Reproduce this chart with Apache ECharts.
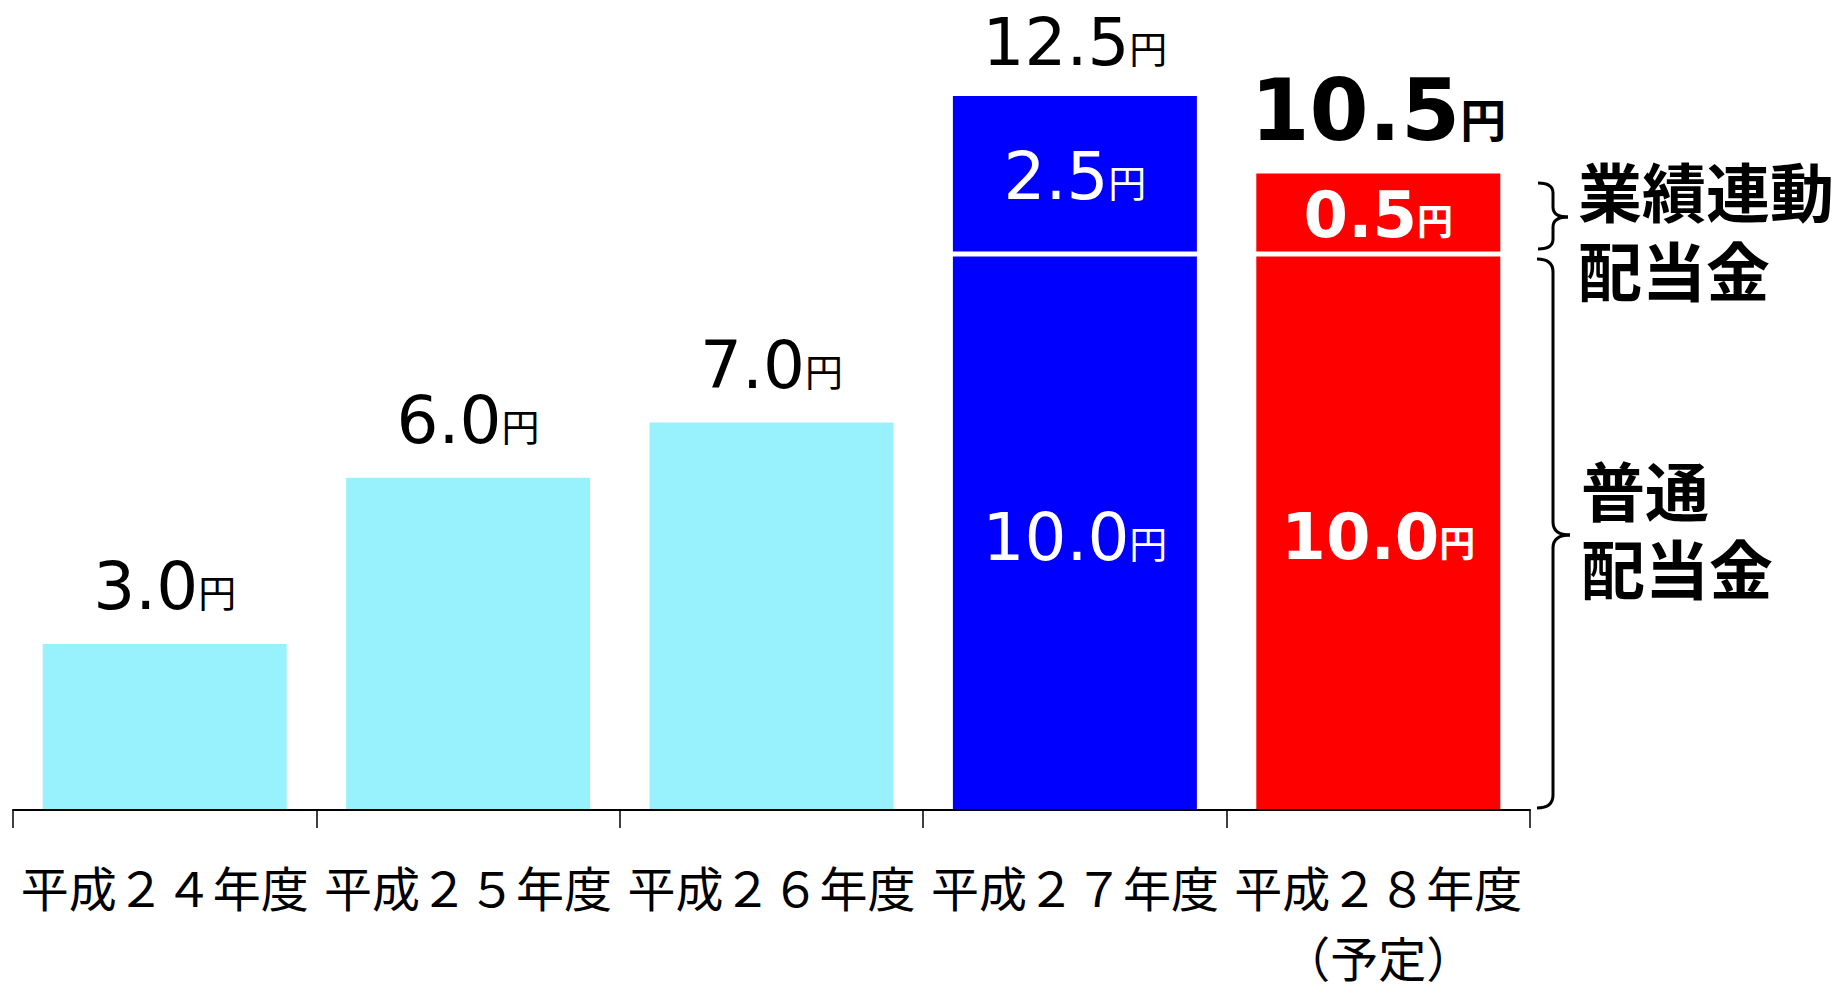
<!DOCTYPE html>
<html><head><meta charset="utf-8">
<script src="https://cdn.jsdelivr.net/npm/echarts@6/dist/echarts.min.js"></script>
<style>html,body{margin:0;padding:0;background:#fff}#c{width:1839px;height:992px}</style>
</head><body><div id="c"></div>
<script>
// ---- data ----
const categories = ['平成２４年度', '平成２５年度', '平成２６年度', '平成２７年度', '平成２８年度\n（予定）'];
const ordinaryDividend = [3.0, 6.0, 7.0, 10.0, 10.0];          // 普通配当金
const performanceDividend = [null, null, null, 2.5, 0.5];       // 業績連動配当金 (label values)
const performanceBarHeightAsDrawn = [null, null, null, 2.9, 1.5]; // the reference draws this segment enlarged
const totalDividend = [3.0, 6.0, 7.0, 12.5, 10.5];
const sideLabelPerformance = ['業績連動', '配当金'];
const sideLabelOrdinary = ['普通', '配当金'];

// ---- styles ----
const barColors = ['#98F2FE', '#98F2FE', '#98F2FE', '#0000FF', '#FF0000'];
const BAR_W = 244;
const GAP = 5;
const NUM_FONT = 'DejaVu Sans';
const JP_FONT = 'Noto Sans CJK JP';
const fmt = v => v.toFixed(1);

function richSet(color, bold, size, usize) {
  return {
    n: {fontFamily: NUM_FONT, fontSize: size, lineHeight: size, fontWeight: bold ? 'bold' : 'normal', color: color, fill: color, verticalAlign: 'bottom'},
    u: {fontFamily: JP_FONT, fontSize: usize, lineHeight: usize, fontWeight: bold ? 'bold' : 'normal', color: color, fill: color, verticalAlign: 'bottom', padding: [0, 0, Math.round(size * 0.15), 0]}
  };
}

const ordinaryData = ordinaryDividend.map((v, i) => {
  const item = {value: v, itemStyle: {color: barColors[i]}};
  if (performanceDividend[i] == null) {
    item.label = {show: true, position: 'top', distance: 24,
      formatter: '{n|' + fmt(totalDividend[i]) + '}{u|円}', rich: richSet('#000', false, 66, 38)};
  } else {
    const bold = i === 4;
    item.label = {show: true, position: 'inside', offset: [0, 4],
      formatter: '{n|' + fmt(v) + '}{u|円}', rich: bold ? richSet('#fff', true, 64, 36) : richSet('#fff', false, 66, 38)};
  }
  return item;
});

const perfData = performanceDividend.map((v, i) => v == null ? null :
  [i, ordinaryDividend[i], ordinaryDividend[i] + performanceBarHeightAsDrawn[i]]).filter(Boolean);

function brace(x0, x1, xt, y0, ym, y1, r) {
  const st = {stroke: '#000', lineWidth: 3, fill: 'none'};
  return [
    {type: 'bezierCurve', shape: {x1: x0, y1: y0, cpx1: x1, cpy1: y0, x2: x1, y2: y0 + r}, style: st},
    {type: 'line', shape: {x1: x1, y1: y0 + r, x2: x1, y2: ym - r}, style: st},
    {type: 'bezierCurve', shape: {x1: x1, y1: ym - r, cpx1: x1, cpy1: ym, x2: xt, y2: ym}, style: st},
    {type: 'bezierCurve', shape: {x1: xt, y1: ym, cpx1: x1, cpy1: ym, x2: x1, y2: ym + r}, style: st},
    {type: 'line', shape: {x1: x1, y1: ym + r, x2: x1, y2: y1 - r}, style: st},
    {type: 'bezierCurve', shape: {x1: x1, y1: y1 - r, cpx1: x1, cpy1: y1, x2: x0, y2: y1}, style: st}
  ];
}

function sideText(lines, x, y, lh) {
  return lines.map((t, k) => ({type: 'text', x: x, y: y + k * lh,
    style: {text: t, fontFamily: JP_FONT, fontWeight: 'bold', fontSize: 64, lineHeight: lh, fill: '#000', align: 'left', verticalAlign: 'middle'}}));
}

const chart = echarts.init(document.getElementById('c'), null, {renderer: 'svg'});
chart.setOption({
  animation: false,
  backgroundColor: '#fff',
  grid: {left: 13, right: 309, top: 35, bottom: 182, containLabel: false, outerBoundsMode: 'none'},
  xAxis: {
    type: 'category', data: categories, z: 10,
    axisLine: {show: true, lineStyle: {color: '#000', width: 2}},
    axisTick: {show: true, interval: 0, alignWithLabel: false, inside: false, length: 18, lineStyle: {color: '#000', width: 1.5}},
    axisLabel: {interval: 0, margin: 41, fontFamily: JP_FONT, fontSize: 48, color: '#000', lineHeight: 70}
  },
  yAxis: {type: 'value', min: 0, max: 14, show: false},
  series: [
    {type: 'bar', name: '普通配当金', data: ordinaryData, barWidth: BAR_W},
    {
      type: 'custom', name: '業績連動配当金', data: perfData, z: 3,
      renderItem: function (params, api) {
        const i = api.value(0);
        const pb = api.coord([i, api.value(1)]);
        const pt = api.coord([i, api.value(2)]);
        const bold = i === 4;
        const innerRich = bold ? richSet('#fff', true, 64, 36) : richSet('#fff', false, 66, 38);
        const topRich = bold ? richSet('#000', true, 85, 46) : richSet('#000', false, 66, 38);
        return {
          type: 'group',
          children: [
            {type: 'rect', shape: {x: pb[0] - BAR_W / 2, y: pt[1], width: BAR_W, height: pb[1] - pt[1] - GAP},
             style: {fill: barColors[i]}},
            {type: 'text', x: pb[0], y: (pt[1] + pb[1] - GAP) / 2 + 3,
             style: {text: '{n|' + fmt(performanceDividend[i]) + '}{u|円}', rich: innerRich, align: 'center', verticalAlign: 'middle'}},
            {type: 'text', x: pb[0], y: pt[1] - 20,
             style: {text: '{n|' + fmt(totalDividend[i]) + '}{u|円}', rich: topRich, align: 'center', verticalAlign: 'bottom'}}
          ]
        };
      }
    }
  ],
  graphic: [].concat(
    brace(1538, 1553, 1568, 183, 217, 249, 10),
    brace(1537, 1553, 1570, 259, 535, 808, 13),
    sideText(sideLabelPerformance, 1578, 189, 79),
    sideText(sideLabelOrdinary, 1581, 488, 78)
  )
});
</script></body></html>
